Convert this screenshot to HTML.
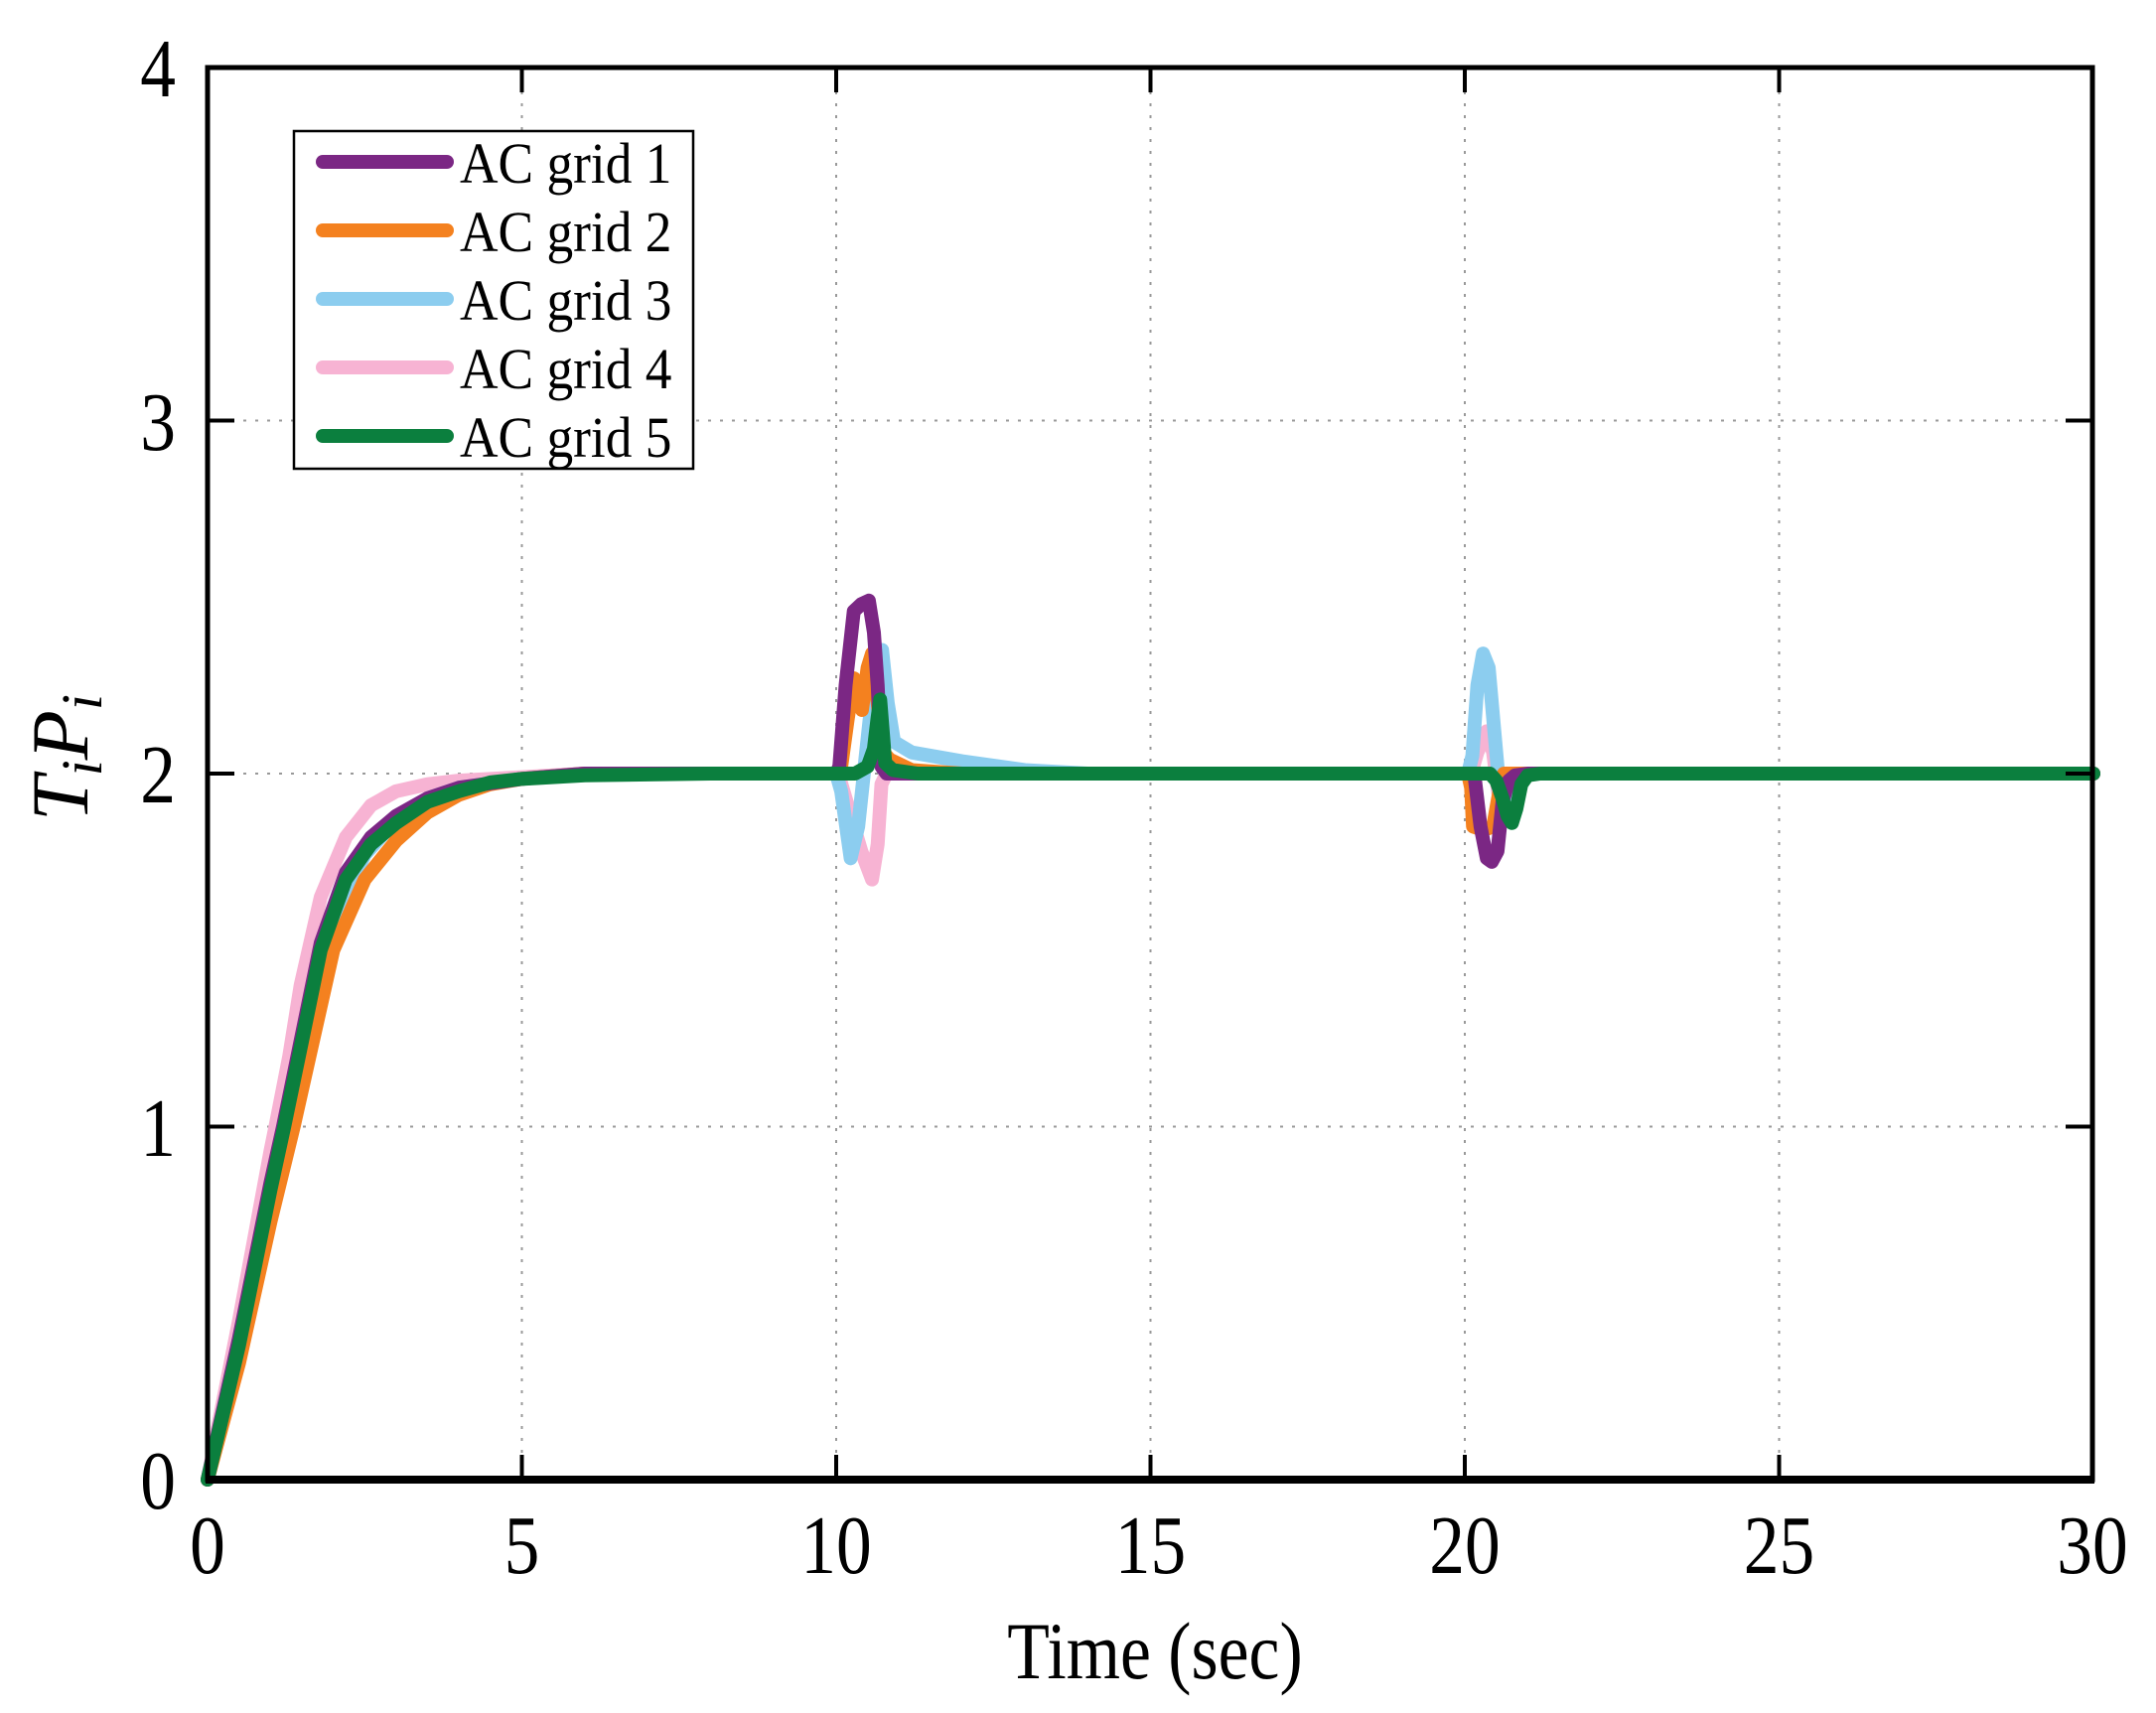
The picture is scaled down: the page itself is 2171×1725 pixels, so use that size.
<!DOCTYPE html>
<html><head><meta charset="utf-8"><style>
html,body{margin:0;padding:0;background:#fff;}
svg{display:block;}
text{font-family:"Liberation Serif",serif;fill:#000;}
</style></head><body>
<svg width="2171" height="1725" viewBox="0 0 2171 1725" xmlns="http://www.w3.org/2000/svg">
<rect width="2171" height="1725" fill="#fff"/>
<g stroke="#999" stroke-width="2" stroke-dasharray="3,9">
<line x1="525.5" y1="68" x2="525.5" y2="1490"/>
<line x1="842" y1="68" x2="842" y2="1490"/>
<line x1="1158.5" y1="68" x2="1158.5" y2="1490"/>
<line x1="1475" y1="68" x2="1475" y2="1490"/>
<line x1="1791.5" y1="68" x2="1791.5" y2="1490"/>
<line x1="209" y1="423.5" x2="2107" y2="423.5"/>
<line x1="209" y1="779" x2="2107" y2="779"/>
<line x1="209" y1="1134.5" x2="2107" y2="1134.5"/>
</g>
<g fill="none" stroke-linejoin="round" stroke-linecap="round" stroke-width="14" transform="translate(209,1490) scale(63.3,-355.5)">
<polyline vector-effect="non-scaling-stroke" stroke="#f7b3d3" points="0,0 0.5,0.45 1,0.93 1.08,1.0 1.3,1.2 1.48,1.4 1.8,1.65 2.2,1.82 2.6,1.91 3,1.95 3.5,1.97 4,1.98 5,1.99 6,2 10,2 10.05,1.99 10.2,1.9 10.4,1.78 10.57,1.70 10.66,1.8 10.72,1.97 10.8,2.0 20.1,2.0 20.2,2.06 20.35,2.12 20.45,2.06 20.55,1.92 20.62,1.9 20.72,1.97 20.85,2.0 30,2"/>
<polyline vector-effect="non-scaling-stroke" stroke="#8ccdef" points="0,0 0.5,0.4 1,0.83 1.5,1.25 2,1.58 2.5,1.77 3,1.87 3.5,1.93 4,1.96 5,1.985 6,2 10,2 10.08,1.95 10.23,1.76 10.35,1.85 10.5,2.1 10.62,2.3 10.73,2.35 10.82,2.2 10.92,2.09 11.2,2.06 12,2.035 13,2.01 14,2 20.05,2 20.12,2.05 20.2,2.25 20.29,2.34 20.38,2.3 20.48,2.1 20.58,1.9 20.63,1.93 20.7,1.99 20.8,2.0 30,2"/>
<polyline vector-effect="non-scaling-stroke" stroke="#f4811f" points="0,0 0.5,0.33 1,0.73 1.37,1.0 2,1.5 2.5,1.7 3,1.81 3.5,1.89 4,1.94 4.5,1.97 5,1.985 6,2 10,2 10.08,2.02 10.18,2.15 10.28,2.27 10.41,2.18 10.5,2.3 10.57,2.34 10.66,2.2 10.75,2.06 10.85,2.04 11.2,2.01 12,2 20.05,2 20.1,1.96 20.13,1.85 20.3,1.84 20.45,1.85 20.55,1.95 20.62,2.0 30,2"/>
<polyline vector-effect="non-scaling-stroke" stroke="#7b2784" points="0,0 0.5,0.4 1,0.84 1.2,1.0 1.5,1.26 1.8,1.52 2.2,1.72 2.6,1.82 3,1.88 3.5,1.93 4,1.96 5,1.985 6,2 10,2 10.05,2.02 10.15,2.25 10.28,2.46 10.4,2.48 10.52,2.49 10.6,2.4 10.66,2.25 10.72,2.02 10.8,2.0 20.15,2.0 20.25,1.85 20.35,1.76 20.43,1.75 20.52,1.78 20.6,1.92 20.7,1.98 20.8,1.995 21,2 30,2"/>
<polyline vector-effect="non-scaling-stroke" stroke="#0b7f3e" points="0,0 0.5,0.38 1,0.82 1.22,1.0 1.5,1.24 1.8,1.5 2.2,1.7 2.6,1.8 3,1.86 3.5,1.92 4,1.95 4.5,1.975 5,1.985 6,1.995 8,2 10.3,2 10.5,2.02 10.6,2.07 10.66,2.16 10.7,2.21 10.74,2.12 10.78,2.03 10.9,2.01 11.3,2.0 20.4,2 20.5,1.98 20.6,1.93 20.68,1.88 20.75,1.86 20.82,1.9 20.9,1.97 21,1.995 21.2,2 30,2"/>
</g>
<rect x="209" y="68" width="1898" height="1422" fill="none" stroke="#000" stroke-width="5"/>
<line x1="207" y1="1490" x2="2109" y2="1490" stroke="#000" stroke-width="8"/>
<g stroke="#000" stroke-width="4">
<line x1="525.5" y1="1490" x2="525.5" y2="1465"/><line x1="525.5" y1="68" x2="525.5" y2="93"/>
<line x1="842" y1="1490" x2="842" y2="1465"/><line x1="842" y1="68" x2="842" y2="93"/>
<line x1="1158.5" y1="1490" x2="1158.5" y2="1465"/><line x1="1158.5" y1="68" x2="1158.5" y2="93"/>
<line x1="1475" y1="1490" x2="1475" y2="1465"/><line x1="1475" y1="68" x2="1475" y2="93"/>
<line x1="1791.5" y1="1490" x2="1791.5" y2="1465"/><line x1="1791.5" y1="68" x2="1791.5" y2="93"/>
<line x1="209" y1="423.5" x2="236" y2="423.5"/><line x1="2107" y1="423.5" x2="2080" y2="423.5"/>
<line x1="209" y1="779" x2="236" y2="779"/><line x1="2107" y1="779" x2="2080" y2="779"/>
<line x1="209" y1="1134.5" x2="236" y2="1134.5"/><line x1="2107" y1="1134.5" x2="2080" y2="1134.5"/>
</g>
<g font-size="84" text-anchor="end">
<text x="177" y="97" transform="translate(177,0) scale(0.85,1) translate(-177,0)">4</text>
<text x="177" y="453" transform="translate(177,0) scale(0.85,1) translate(-177,0)">3</text>
<text x="177" y="808" transform="translate(177,0) scale(0.85,1) translate(-177,0)">2</text>
<text x="177" y="1164" transform="translate(177,0) scale(0.85,1) translate(-177,0)">1</text>
<text x="177" y="1519" transform="translate(177,0) scale(0.85,1) translate(-177,0)">0</text>
</g>
<g font-size="84" text-anchor="middle">
<text x="209" y="1584" transform="translate(209,0) scale(0.85,1) translate(-209,0)">0</text>
<text x="525.5" y="1584" transform="translate(525.5,0) scale(0.85,1) translate(-525.5,0)">5</text>
<text x="842" y="1584" transform="translate(842,0) scale(0.85,1) translate(-842,0)">10</text>
<text x="1158.5" y="1584" transform="translate(1158.5,0) scale(0.85,1) translate(-1158.5,0)">15</text>
<text x="1475" y="1584" transform="translate(1475,0) scale(0.85,1) translate(-1475,0)">20</text>
<text x="1791.5" y="1584" transform="translate(1791.5,0) scale(0.85,1) translate(-1791.5,0)">25</text>
<text x="2107" y="1584" transform="translate(2107,0) scale(0.85,1) translate(-2107,0)">30</text>
</g>
<text x="1163" y="1690" font-size="82" text-anchor="middle" transform="translate(1163,0) scale(0.85,1) translate(-1163,0)">Time (sec)</text>
<text transform="translate(88,763) rotate(-90)" font-size="82" font-style="italic" text-anchor="middle">T<tspan font-size="58" dy="14">i</tspan><tspan dy="-14">P</tspan><tspan font-size="58" dy="14">i</tspan></text>
<rect x="296" y="132" width="402" height="340" fill="#fff" stroke="#000" stroke-width="2.5"/>
<g stroke-width="14" stroke-linecap="round">
<line x1="325" y1="163" x2="450" y2="163" stroke="#7b2784"/>
<line x1="325" y1="232" x2="450" y2="232" stroke="#f4811f"/>
<line x1="325" y1="301" x2="450" y2="301" stroke="#8ccdef"/>
<line x1="325" y1="370" x2="450" y2="370" stroke="#f7b3d3"/>
<line x1="325" y1="439" x2="450" y2="439" stroke="#0b7f3e"/>
</g>
<g font-size="58">
<text x="463" y="184" transform="translate(463,0) scale(0.92,1) translate(-463,0)">AC grid 1</text>
<text x="463" y="253" transform="translate(463,0) scale(0.92,1) translate(-463,0)">AC grid 2</text>
<text x="463" y="322" transform="translate(463,0) scale(0.92,1) translate(-463,0)">AC grid 3</text>
<text x="463" y="391" transform="translate(463,0) scale(0.92,1) translate(-463,0)">AC grid 4</text>
<text x="463" y="460" transform="translate(463,0) scale(0.92,1) translate(-463,0)">AC grid 5</text>
</g>
</svg>
</body></html>
